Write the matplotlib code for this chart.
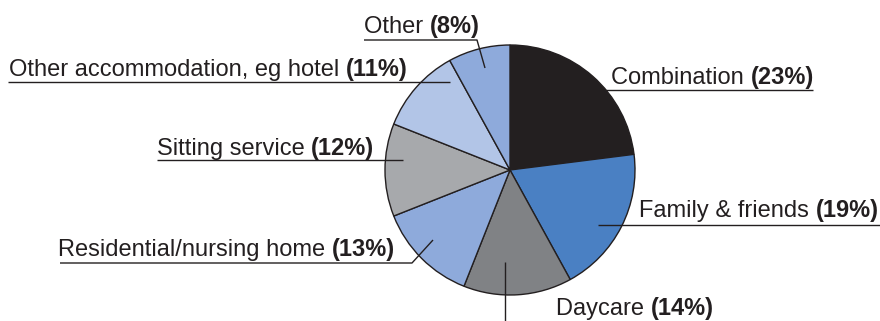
import matplotlib
matplotlib.use("Agg")
import matplotlib.pyplot as plt

# Share of respite care by type (%), clockwise from 12 o'clock
categories = ["Combination", "Family & friends", "Daycare",
              "Residential/nursing home", "Sitting service",
              "Other accommodation, eg hotel", "Other"]
shares = [23, 19, 14, 13, 12, 11, 8]
colors = ["#231f20", "#4a80c3", "#808285", "#8eaadb",
          "#a7a9ac", "#b2c5e7", "#8eaadb"]

W, H = 880, 321
FONT = "Liberation Sans"
FS = 17

fig = plt.figure(figsize=(W / 100, H / 100), dpi=100)
ax = fig.add_axes([0, 0, 1, 1])

cx, cy, r = 510, H - 170, 125
ax.pie(shares, colors=colors, startangle=90, counterclock=False,
       center=(cx, cy), radius=r, frame=True,
       wedgeprops=dict(edgecolor="#231f20", linewidth=1.0))
ax.set_xlim(0, W)
ax.set_ylim(0, H)
ax.set_aspect("equal")
ax.axis("off")

# label layout: text left x, baseline y (pixels from top), leader polyline (pixels from top)
layout = {
    "Combination": (611, 84, [(813, 90), (578, 90)]),
    "Family & friends": (639, 217, [(880, 225), (598, 225)]),
    "Daycare": (556, 315, [(505, 321), (505, 262)]),
    "Residential/nursing home": (58, 256, [(60, 263), (412, 263), (433, 240)]),
    "Sitting service": (157, 155, [(157, 160), (403, 160)]),
    "Other accommodation, eg hotel": (9, 76, [(8, 82), (450, 82)]),
    "Other": (364, 33, [(364, 40), (477, 40), (485, 68)]),
}

fig.canvas.draw()
renderer = fig.canvas.get_renderer()
for name, val in zip(categories, shares):
    tx, ty, pts = layout[name]
    t = ax.text(tx, H - ty, name + " ", fontsize=FS, family=FONT,
                color="#231f20", ha="left", va="baseline")
    bb = t.get_window_extent(renderer=renderer)
    bx = ax.transData.inverted().transform((bb.x1, 0))[0]
    ax.text(bx, H - ty, f"({val}%)", fontsize=FS, family=FONT,
            fontweight="bold", color="#231f20", ha="left", va="baseline")
    xs = [p[0] for p in pts]
    ys = [H - p[1] for p in pts]
    ax.plot(xs, ys, color="#231f20", linewidth=1.0, solid_capstyle="butt")

fig.savefig("out.png", dpi=100)
